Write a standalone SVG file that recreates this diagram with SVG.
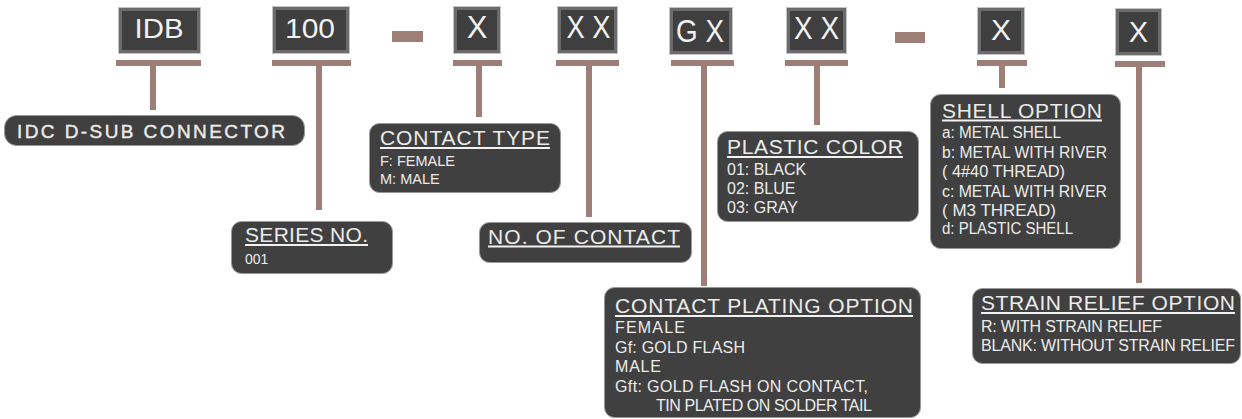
<svg xmlns="http://www.w3.org/2000/svg" width="1242" height="419" viewBox="0 0 1242 419">
<style>
.code rect.o{fill:#c4c4c4;}
.code rect.i{fill:#3f3f3f;stroke:#6b6b6b;stroke-width:3;}
.code text{font-family:"Liberation Sans",Arial,sans-serif;fill:#f2f2f2;text-anchor:middle;}
.desc rect{fill:#404040;stroke:#9a9a9a;stroke-width:1;}
.desc text{font-family:"Liberation Sans",Arial,sans-serif;fill:#ececec;}
.t{font-size:21px;}
.s{font-size:16px;}
.ul{stroke:#f2f2f2;stroke-width:2;}
.conn rect{fill:#9e7f78;}
</style>
<rect width="1242" height="419" fill="#ffffff"/>
<g id="connectors" class="conn">
  <rect x="392" y="31" width="31" height="11"/>
  <rect x="895" y="32" width="30" height="11"/>
  <rect x="116" y="60" width="85" height="6"/><rect x="150" y="66" width="6" height="44"/>
  <rect x="272" y="60" width="79" height="6"/><rect x="316" y="66" width="6" height="144"/>
  <rect x="453" y="60" width="49" height="6"/><rect x="476" y="66" width="6" height="51"/>
  <rect x="556" y="60" width="63" height="6"/><rect x="586" y="66" width="6" height="151"/>
  <rect x="671" y="60" width="63" height="6"/><rect x="701" y="66" width="6" height="220"/>
  <rect x="785" y="60" width="63" height="6"/><rect x="814" y="66" width="6" height="59"/>
  <rect x="977" y="60" width="50" height="6"/><rect x="999" y="66" width="6" height="22"/>
  <rect x="1115" y="61" width="50" height="6"/><rect x="1136" y="67" width="6" height="216"/>
</g>
<g id="code-idb" class="code"><rect class="o" x="118" y="7" width="83" height="47"/><rect class="i" x="120.5" y="9.5" width="78" height="42"/><text x="159" y="38" font-size="28.5" textLength="49" lengthAdjust="spacingAndGlyphs">IDB</text></g>
<g id="code-100" class="code"><rect class="o" x="272" y="6" width="78" height="48"/><rect class="i" x="274.5" y="8.5" width="73" height="43"/><text x="310" y="38" font-size="28.5" textLength="50" lengthAdjust="spacingAndGlyphs">100</text></g>
<g id="code-x1" class="code"><rect class="o" x="453" y="6" width="48" height="48"/><rect class="i" x="455.5" y="8.5" width="43" height="43"/><text x="477" y="38" font-size="31">X</text></g>
<g id="code-xx1" class="code"><rect class="o" x="557" y="6" width="61" height="48"/><rect class="i" x="559.5" y="8.5" width="56" height="43"/><text x="588.5" y="38" font-size="31" textLength="44" lengthAdjust="spacingAndGlyphs">X X</text></g>
<g id="code-gx" class="code"><rect class="o" x="669" y="7" width="64" height="48"/><rect class="i" x="671.5" y="9.5" width="59" height="43"/><text x="700" y="42" font-size="31" textLength="48" lengthAdjust="spacingAndGlyphs">G X</text></g>
<g id="code-xx2" class="code"><rect class="o" x="786" y="7" width="61" height="47"/><rect class="i" x="788.5" y="9.5" width="56" height="42"/><text x="816.5" y="39" font-size="31" textLength="45" lengthAdjust="spacingAndGlyphs">X X</text></g>
<g id="code-x3" class="code"><rect class="o" x="977" y="7" width="48" height="48"/><rect class="i" x="979.5" y="9.5" width="43" height="43"/><text x="1001" y="40" font-size="30">X</text></g>
<g id="code-x4" class="code"><rect class="o" x="1115" y="8" width="47" height="48"/><rect class="i" x="1117.5" y="10.5" width="42" height="43"/><text x="1138.5" y="42" font-size="29">X</text></g>

<g id="desc-idc" class="desc"><rect x="4.5" y="115.5" width="300" height="30" rx="12"/><text x="17" y="138" font-size="19" textLength="268" lengthAdjust="spacing" stroke="#ececec" stroke-width="0.4">IDC D-SUB CONNECTOR</text></g>
<g id="desc-series" class="desc"><rect x="231.5" y="221.5" width="161" height="52" rx="10"/><text class="t" x="245" y="242" textLength="123" lengthAdjust="spacing">SERIES NO.</text><line class="ul" x1="245" y1="245" x2="368" y2="245"/><text x="245" y="264" font-size="14">001</text></g>
<g id="desc-contact-type" class="desc"><rect x="369.5" y="123.5" width="191" height="69" rx="10"/><text class="t" x="380" y="145" textLength="170" lengthAdjust="spacing">CONTACT TYPE</text><line class="ul" x1="380" y1="148" x2="550" y2="148"/><text x="380" y="166" font-size="14.5">F:  FEMALE</text><text x="380" y="184" font-size="14.5">M:  MALE</text></g>
<g id="desc-no-contact" class="desc"><rect x="479.5" y="222.5" width="212" height="40" rx="10"/><text class="t" x="488" y="244" textLength="192" lengthAdjust="spacing">NO. OF CONTACT</text><line class="ul" x1="488" y1="246.5" x2="680" y2="246.5"/></g>
<g id="desc-plastic-color" class="desc"><rect x="717.5" y="131.5" width="201" height="90" rx="10"/><text class="t" x="727" y="154" textLength="176" lengthAdjust="spacing">PLASTIC COLOR</text><line class="ul" x1="727" y1="157" x2="903" y2="157"/><text class="s" x="727" y="175">01:  BLACK</text><text class="s" x="727" y="194">02:  BLUE</text><text class="s" x="727" y="213">03:  GRAY</text></g>
<g id="desc-shell" class="desc"><rect x="930.5" y="94.5" width="190" height="154" rx="10"/><text class="t" x="942" y="118" textLength="160" lengthAdjust="spacing">SHELL OPTION</text><line class="ul" x1="942" y1="120.5" x2="1102" y2="120.5"/>
<text class="s" x="942" y="138" textLength="119" lengthAdjust="spacingAndGlyphs">a: METAL SHELL</text>
<text class="s" x="942" y="158" textLength="165" lengthAdjust="spacingAndGlyphs">b: METAL WITH RIVER</text>
<text class="s" x="942" y="177" textLength="123" lengthAdjust="spacingAndGlyphs">(  4#40  THREAD)</text>
<text class="s" x="942" y="197" textLength="165" lengthAdjust="spacingAndGlyphs">c: METAL WITH RIVER</text>
<text class="s" x="942" y="216" textLength="114" lengthAdjust="spacingAndGlyphs">(  M3  THREAD)</text>
<text class="s" x="942" y="234" textLength="131" lengthAdjust="spacingAndGlyphs">d: PLASTIC SHELL</text></g>
<g id="desc-plating" class="desc"><rect x="604.5" y="287.5" width="316" height="130" rx="10"/><text class="t" x="615" y="313" textLength="298" lengthAdjust="spacing">CONTACT PLATING OPTION</text><line class="ul" x1="615" y1="316" x2="913" y2="316"/>
<text class="s" x="615" y="333" textLength="70" lengthAdjust="spacing">FEMALE</text>
<text class="s" x="615" y="353" textLength="130" lengthAdjust="spacing">Gf:  GOLD FLASH</text>
<text class="s" x="615" y="372" textLength="46" lengthAdjust="spacing">MALE</text>
<text class="s" x="615" y="392" textLength="253" lengthAdjust="spacing">Gft:  GOLD FLASH ON CONTACT,</text>
<text class="s" x="656" y="411" textLength="216" lengthAdjust="spacing">TIN PLATED ON SOLDER TAIL</text></g>
<g id="desc-strain" class="desc"><rect x="972.5" y="288.5" width="268" height="75" rx="10"/><text class="t" x="981" y="310" textLength="254" lengthAdjust="spacing">STRAIN RELIEF OPTION</text><line class="ul" x1="981" y1="313" x2="1235" y2="313"/>
<text class="s" x="981" y="332" textLength="181" lengthAdjust="spacing">R:  WITH STRAIN RELIEF</text>
<text class="s" x="981" y="351" textLength="254" lengthAdjust="spacing">BLANK:  WITHOUT STRAIN RELIEF</text></g>
</svg>
